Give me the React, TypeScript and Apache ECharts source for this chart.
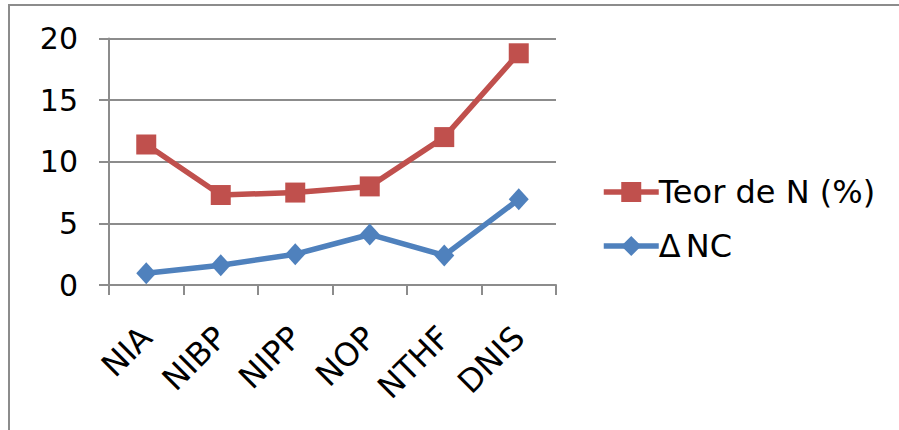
import React, { useEffect, useRef } from "react";
import * as echarts from "echarts";

const categories = ["NIA", "NIBP", "NIPP", "NOP", "NTHF", "DNIS"];
const teorN = [11.4, 7.3, 7.5, 8.0, 12.0, 18.8];
const deltaNC = [0.95, 1.6, 2.5, 4.1, 2.4, 6.95];
const yTicks = [0, 5, 10, 15, 20];
const seriesNames = ["Teor de N (%)", "\u0394 NC"];

const RED = "#C0504D";
const BLUE = "#4F81BD";
const GRAY = "#8C8C8C";
const FONT = "DejaVu Sans";

export default function App() {
  const ref = useRef<HTMLDivElement>(null);

  useEffect(() => {
    document.body.style.margin = "0";
    const chart = echarts.init(ref.current!, null, { renderer: "svg" });
    chart.setOption({
      animation: false,
      backgroundColor: "#ffffff",
      textStyle: { fontFamily: FONT },
      graphic: [
        {
          type: "polyline",
          shape: { points: [[9, 430], [9, 5], [899, 5]] },
          style: { stroke: GRAY, lineWidth: 2, fill: "none" },
        },
      ],
      grid: { left: 109, right: 343, top: 38.5, bottom: 145, containLabel: false },
      legend: {
        orient: "vertical",
        left: 596,
        top: 169,
        itemWidth: 55,
        itemHeight: 25,
        itemGap: 18,
        lineStyle: { width: 5.5 },
        formatter: (name: string) =>
          name.startsWith("\u0394") ? "\u0394{s| }" + name.slice(2) : name,
        textStyle: {
          fontFamily: FONT,
          fontSize: 32,
          color: "#000",
          lineHeight: 36,
          padding: [0, 0, 0, -5],
          rich: { s: { fontFamily: FONT, fontSize: 16, lineHeight: 36 } },
        },
        data: seriesNames,
      },
      xAxis: {
        type: "category",
        data: categories,
        boundaryGap: true,
        axisLine: { show: true, lineStyle: { color: GRAY, width: 2 } },
        axisTick: { show: true, interval: 0, length: 10, lineStyle: { color: GRAY, width: 2 } },
        axisLabel: {
          interval: 0,
          rotate: 45,
          margin: 47,
          fontFamily: FONT,
          fontSize: 32,
          color: "#000",
        },
      },
      yAxis: {
        type: "value",
        min: yTicks[0],
        max: yTicks[yTicks.length - 1],
        interval: 5,
        axisLine: { show: true, lineStyle: { color: GRAY, width: 2 } },
        axisTick: { show: true, length: 10, lineStyle: { color: GRAY, width: 2 } },
        splitLine: { show: true, lineStyle: { color: GRAY, width: 2 } },
        axisLabel: { margin: 31, fontFamily: FONT, fontSize: 30, color: "#000" },
      },
      series: [
        {
          name: seriesNames[0],
          type: "line",
          data: teorN,
          symbol: "rect",
          symbolSize: 20,
          lineStyle: { color: RED, width: 5.5 },
          itemStyle: { color: RED },
          z: 3,
        },
        {
          name: seriesNames[1],
          type: "line",
          data: deltaNC,
          symbol: "diamond",
          symbolSize: [20, 22],
          lineStyle: { color: BLUE, width: 5.5 },
          itemStyle: { color: BLUE },
          z: 3,
        },
      ],
    });
    return () => chart.dispose();
  }, []);

  return <div ref={ref} style={{ width: 899, height: 430 }} />;
}
